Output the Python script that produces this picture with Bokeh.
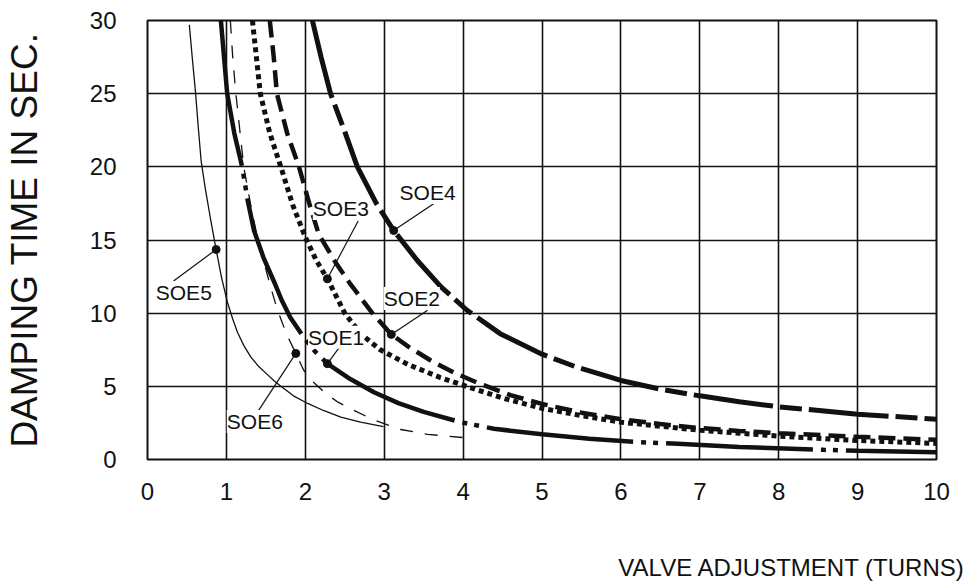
from bokeh.plotting import figure
from bokeh.models import Range1d, FixedTicker, ColumnDataSource, Title
from bokeh.embed import file_html
from bokeh.resources import INLINE
from bokeh.core.properties import value

# ---------------- data ----------------
x_ticks = [0, 1, 2, 3, 4, 5, 6, 7, 8, 9, 10]
y_ticks = [0, 5, 10, 15, 20, 25, 30]

soe5_x = [0.53, 0.57, 0.61, 0.645, 0.68, 0.73, 0.80, 0.87, 0.94, 1.01, 1.08, 1.14, 1.22, 1.31,
          1.41, 1.52, 1.60, 1.69, 1.85, 2.03, 2.23, 2.45, 2.70, 2.99]
soe5_y = [29.7, 27.3, 25.0, 22.6, 20.4, 18.6, 16.4, 14.35, 12.4, 10.8, 9.6, 8.7, 7.8, 7.0,
          6.35, 5.8, 5.4, 5.0, 4.35, 3.83, 3.35, 2.9, 2.55, 2.25]

soe6_x = [1.05, 1.08, 1.12, 1.17, 1.22, 1.28, 1.34, 1.41, 1.48, 1.55, 1.62, 1.69, 1.76, 1.88,
          1.98, 2.10, 2.26, 2.42, 2.60, 2.87, 3.21, 3.55, 4.0]
soe6_y = [30.0, 27.5, 25.0, 22.5, 20.0, 18.2, 16.5, 14.8, 13.4, 12.0, 10.7, 9.6, 8.6, 7.25,
          6.1, 5.3, 4.5, 3.9, 3.4, 2.7, 2.05, 1.72, 1.5]

soe1_x = [0.93, 0.97, 1.01, 1.10, 1.20, 1.27, 1.35, 1.47, 1.60, 1.70, 1.81, 1.98, 2.12, 2.28,
          2.57, 2.87, 3.18, 3.50, 3.97, 4.39, 5.0, 5.6, 6.25, 6.72, 7.5, 8.57, 9.0, 10.0]
soe1_y = [30.0, 27.5, 25.0, 22.3, 20.0, 17.7, 15.65, 13.8, 12.2, 10.9, 9.7, 8.35, 7.4, 6.55,
          5.5, 4.6, 3.85, 3.25, 2.55, 2.1, 1.72, 1.42, 1.18, 1.07, 0.86, 0.66, 0.6, 0.5]

soe2_x = [1.55, 1.60, 1.64, 1.77, 1.92, 2.05, 2.17, 2.38, 2.57, 2.85, 3.09, 3.31, 3.61, 3.88,
          4.2, 4.6, 5.0, 5.5, 6.0, 6.5, 7.0, 7.5, 8.0, 9.0, 10.0]
soe2_y = [30.0, 27.5, 25.0, 22.3, 20.0, 17.5, 15.4, 13.5, 12.0, 10.0, 8.55, 7.7, 6.7, 5.95,
          5.2, 4.4, 3.8, 3.2, 2.75, 2.42, 2.15, 1.95, 1.8, 1.55, 1.35]

soe3_x = [1.33, 1.38, 1.43, 1.55, 1.69, 1.84, 2.0, 2.14, 2.28, 2.5, 2.7, 2.95, 3.3, 3.71,
          4.1, 4.5, 5.0, 5.5, 6.0, 7.0, 8.0, 9.0, 10.0]
soe3_y = [30.0, 27.5, 25.0, 22.3, 20.0, 17.4, 15.2, 13.6, 12.35, 10.0, 8.6, 7.5, 6.5, 5.6,
          4.9, 4.2, 3.5, 3.0, 2.55, 2.0, 1.6, 1.3, 1.1]

soe4_x = [2.09, 2.20, 2.32, 2.48, 2.66, 2.9, 3.12, 3.42, 3.72, 4.05, 4.47, 5.0, 5.42, 6.0,
          6.5, 7.0, 7.5, 8.0, 9.0, 10.0]
soe4_y = [30.0, 27.5, 25.0, 22.7, 20.0, 17.5, 15.65, 13.6, 11.8, 10.2, 8.6, 7.2, 6.35, 5.4,
          4.8, 4.35, 3.95, 3.6, 3.1, 2.75]

# callout labels: name, marker point on curve, text centre, leader end
callout_names = ["SOE1", "SOE2", "SOE3", "SOE4", "SOE5", "SOE6"]
marker_x = [2.28, 3.09, 2.28, 3.12, 0.87, 1.88]
marker_y = [6.55, 8.55, 12.35, 15.65, 14.35, 7.25]
text_x = [2.39, 3.35, 2.45, 3.55, 0.46, 1.36]
text_y = [8.35, 11.0, 17.15, 18.25, 11.4, 2.6]
lead_x = [2.45, 3.55, 2.67, 3.65, 0.33, 1.39]
lead_y = [7.8, 10.2, 16.3, 17.57, 12.2, 3.2]

x_title = "VALVE ADJUSTMENT (TURNS)"
y_title = "DAMPING TIME IN SEC."

FONT = "Liberation Sans"
INK = "#111111"

p = figure(frame_width=789, frame_height=439, output_backend="svg", toolbar_location=None,
           x_range=Range1d(0, 10), y_range=Range1d(0, 30),
           min_border_left=147, min_border_right=36, min_border_top=20,
           min_border_bottom=100, background_fill_color="white",
           border_fill_color="white")

p.outline_line_color = INK
p.outline_line_width = 2
p.outline_line_alpha = 1

p.xaxis.ticker = FixedTicker(ticks=x_ticks)
p.yaxis.ticker = FixedTicker(ticks=y_ticks)
p.xgrid.ticker = FixedTicker(ticks=x_ticks)
p.ygrid.ticker = FixedTicker(ticks=y_ticks)
for g in (p.xgrid, p.ygrid):
    g.grid_line_color = INK
    g.grid_line_width = 1.6
    g.grid_line_alpha = 1

for ax in (p.xaxis, p.yaxis):
    ax.axis_line_color = None
    ax.major_tick_line_color = None
    ax.minor_tick_line_color = None
    ax.major_label_text_font = FONT
    ax.major_label_text_font_size = "24px"
    ax.major_label_text_color = INK

p.xaxis.major_label_standoff = 17
p.yaxis.major_label_standoff = 25

p.yaxis.axis_label = y_title
p.yaxis.axis_label_text_font = FONT
p.yaxis.axis_label_text_font_size = "37px"
p.yaxis.axis_label_text_font_style = "normal"
p.yaxis.axis_label_text_color = INK
p.yaxis.axis_label_standoff = 42

# empty spacer panel between the tick labels and the x title
spacer = Title(text=" ", text_font_size="29px", text_line_height=1.0)
p.add_layout(spacer, "below")

# x-axis title, right-aligned below the axis as in the reference
t = Title(text=x_title, align="right", text_font=FONT, text_font_size="24px",
          text_font_style="normal", text_color=INK, text_line_height=1.0)
t.offset = -29
p.add_layout(t, "below")

# curves
p.line(soe5_x, soe5_y, line_color=INK, line_width=1.3)
p.line(soe6_x, soe6_y, line_color=INK, line_width=1.3, line_dash="13 12")
p.line(soe1_x, soe1_y, line_color=INK, line_width=4.5, line_dash="147 8 5 7 5 8")
p.line(soe2_x, soe2_y, line_color=INK, line_width=4.5, line_dash="17 8")
p.line(soe3_x, soe3_y, line_color=INK, line_width=5, line_dash="5 4")
p.line(soe4_x, soe4_y, line_color=INK, line_width=5, line_dash="80 7 22 7")

# callouts
src = ColumnDataSource(dict(name=callout_names, mx=marker_x, my=marker_y,
                            tx=text_x, ty=text_y, lx=lead_x, ly=lead_y))
p.segment(x0="mx", y0="my", x1="lx", y1="ly", source=src, line_color=INK, line_width=1.2)
p.scatter(x="mx", y="my", source=src, size=8, fill_color=INK, line_color=INK)
p.text(x="tx", y="ty", text="name", source=src, text_align="center",
       text_baseline="middle", text_font=value(FONT), text_font_size="21px",
       text_color=INK, background_fill_color="white")

open("out.html", "w").write(file_html(p, INLINE))
